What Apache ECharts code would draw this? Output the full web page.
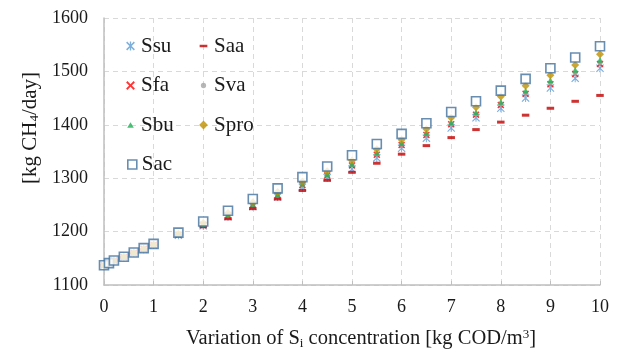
<!DOCTYPE html>
<html>
<head>
<meta charset="utf-8">
<script src="https://cdn.jsdelivr.net/npm/echarts@6/dist/echarts.min.js"></script>
<style>
  html, body { margin: 0; padding: 0; background: #fff; }
  #chart { width: 620px; height: 354px; }
</style>
</head>
<body>
<div id="chart"></div>
<script>
// Variation of Si concentration [kg COD/m3]
const xValues = [0, 0.1, 0.2, 0.4, 0.6, 0.8, 1, 1.5, 2, 2.5, 3, 3.5, 4, 4.5, 5, 5.5, 6, 6.5, 7, 7.5, 8, 8.5, 9, 9.5, 10];

// Methane production [kg CH4/day] for each varied component
const ssu  = [1137, 1141, 1146, 1152, 1160, 1167, 1175, 1193, 1211, 1228, 1247, 1265, 1283, 1301, 1317, 1338, 1356, 1375, 1394, 1413, 1431, 1450, 1469, 1487, 1506];
const saa  = [1137, 1141, 1146, 1152, 1160, 1167, 1175, 1193, 1209, 1224, 1243, 1261, 1277, 1296, 1311, 1328, 1345, 1361, 1376, 1391, 1405, 1418, 1431, 1444, 1455];
const sfa  = [1137, 1141, 1146, 1152, 1160, 1168, 1175, 1194, 1213, 1230, 1250, 1268, 1287, 1305, 1324, 1344, 1362, 1381, 1401, 1419, 1437, 1458, 1476, 1495, 1514];
const sva  = [1137, 1141, 1146, 1152, 1160, 1168, 1175, 1194, 1213, 1231, 1251, 1269, 1288, 1306, 1325, 1345, 1363, 1382, 1402, 1420, 1439, 1459, 1478, 1497, 1516];
const sbu  = [1137, 1141, 1146, 1153, 1160, 1168, 1176, 1195, 1214, 1232, 1252, 1270, 1290, 1308, 1327, 1348, 1366, 1385, 1405, 1424, 1443, 1464, 1484, 1503, 1522];
const spro = [1137, 1141, 1146, 1153, 1161, 1168, 1176, 1196, 1216, 1235, 1255, 1274, 1294, 1313, 1333, 1354, 1372, 1392, 1413, 1433, 1453, 1473, 1493, 1512, 1532];
const sac  = [1137, 1141, 1146, 1153, 1161, 1169, 1177, 1198, 1219, 1239, 1261, 1281, 1302, 1322, 1343, 1364, 1383, 1403, 1424, 1444, 1464, 1486, 1506, 1526, 1547];

const seriesNames = ['Ssu', 'Saa', 'Sfa', 'Sva', 'Sbu', 'Spro', 'Sac'];
const seriesValues = [ssu, saa, sfa, sva, sbu, spro, sac];

// Axis ranges and tick steps
const xMin = 0, xMax = 10, xStep = 1;
const yMin = 1100, yMax = 1600, yStep = 100;

const serif = '"Liberation Serif", "DejaVu Serif", serif';
const textColor = '#1a1a1a';

// Marker shapes (filled outlines)
const starPath = 'path://M0,1L1,0L5,4L9,0L10,1L6,5L10,9L9,10L5,6L1,10L0,9L4,5Z M4.4,0L5.6,0L5.6,10L4.4,10Z';
const crossPath = 'path://M0,1.5L1.5,0L5,3.5L8.5,0L10,1.5L6.5,5L10,8.5L8.5,10L5,6.5L1.5,10L0,8.5L3.5,5Z';
// Legend icons keep a 10x10 box so small marks stay small
const pad = 'M0,0L0.01,0L0.01,0.01L0,0.01Z M9.99,9.99L10,9.99L10,10L9.99,10Z ';
const legendIcons = {
  Ssu: 'path://' + pad + 'M1,2L2,1L5,4L8,1L9,2L6,5L9,8L8,9L5,6L2,9L1,8L4,5Z M4.4,1L5.6,1L5.6,9L4.4,9Z',
  Saa: 'path://' + pad + 'M1.5,3.8L8.5,3.8L8.5,6.2L1.5,6.2Z',
  Sfa: 'path://' + pad + 'M1,2.2L2.2,1L5,3.8L7.8,1L9,2.2L6.2,5L9,7.8L7.8,9L5,6.2L2.2,9L1,7.8L3.8,5Z',
  Sva: 'path://' + pad + 'M5,2.6A2.4,2.4 0 1,1 4.99,2.6Z',
  Sbu: 'path://' + pad + 'M5,2.5L8,7.5L2,7.5Z',
  Spro: 'path://' + pad + 'M5,1L9,5L5,9L1,5Z',
  Sac: 'rect'
};

const styles = {
  Ssu:  { symbol: starPath,  symbolSize: 8,        itemStyle: { color: '#5B9BD5' } },
  Saa:  { symbol: 'rect',    symbolSize: [7.5, 3], itemStyle: { color: '#C00000' } },
  Sfa:  { symbol: crossPath, symbolSize: 7,        itemStyle: { color: '#FF0000' } },
  Sva:  { symbol: 'circle',  symbolSize: 5,        itemStyle: { color: '#A5A5A5' } },
  Sbu:  { symbol: 'triangle',symbolSize: 6,        itemStyle: { color: '#1FAF55' } },
  Spro: { symbol: 'diamond', symbolSize: 8,        itemStyle: { color: '#BF9000' } },
  Sac:  { symbol: 'rect',    symbolSize: 9,        itemStyle: { color: '#FFFFFF', borderColor: '#41719C', borderWidth: 1.6 } }
};

const series = seriesNames.map((name, i) => Object.assign({
  name: name,
  type: 'scatter',
  data: xValues.map((x, j) => [x, seriesValues[i][j]]),
  emphasis: { disabled: true },
  animation: false
}, styles[name]));

const legendText = { fontFamily: serif, fontSize: 21, color: textColor, lineHeight: 22 };
function legendBlock(names, left, top, size) {
  return {
    data: names.map(n => ({ name: n, icon: legendIcons[n] })),
    orient: 'vertical',
    left: left,
    top: top,
    itemWidth: size,
    itemHeight: size,
    itemGap: 17.5,
    padding: 0,
    selectedMode: false,
    itemStyle: { borderWidth: 1.6 },
    textStyle: legendText
  };
}

const chart = echarts.init(document.getElementById('chart'), null, { renderer: 'canvas' });
chart.setOption({
  animation: false,
  backgroundColor: '#ffffff',
  grid: { left: 104, right: 20, top: 18, bottom: 69, containLabel: false, outerBoundsMode: 'none' },
  xAxis: {
    type: 'value', min: xMin, max: xMax, interval: xStep,
    axisLine: { show: true, onZero: false, lineStyle: { color: '#BFBFBF', width: 1.5 } },
    axisTick: { show: true, inside: true, length: 4, lineStyle: { color: '#BFBFBF' } },
    axisLabel: { margin: 13, fontFamily: serif, fontSize: 18, color: textColor },
    splitLine: { show: true, lineStyle: { color: '#D9D9D9', type: [5, 4], width: 1 } }
  },
  yAxis: {
    type: 'value', min: yMin, max: yMax, interval: yStep,
    axisLine: { show: true, onZero: false, lineStyle: { color: '#BFBFBF', width: 1.5 } },
    axisTick: { show: false },
    axisLabel: { margin: 16, fontFamily: serif, fontSize: 18, color: textColor, formatter: v => String(v) },
    splitLine: { show: true, lineStyle: { color: '#D9D9D9', type: [5, 4], width: 1 } }
  },
  legend: [
    Object.assign(legendBlock(['Ssu', 'Sfa', 'Sbu'], 125, 35, 11), { itemStyle: {} }),
    Object.assign(legendBlock(['Saa', 'Sva', 'Spro'], 198, 35, 11), { itemStyle: {} }),
    legendBlock(['Sac'], 127, 153.5, 9)
  ],
  graphic: [
    {
      type: 'text', x: 30, y: 128, rotation: Math.PI / 2,
      style: {
        text: '[kg CH{sub|4}/day]',
        fontFamily: serif, fontSize: 21, fill: textColor, lineHeight: 22,
        align: 'center', verticalAlign: 'middle',
        rich: { sub: { fontFamily: serif, fontSize: 13, lineHeight: 13, verticalAlign: 'bottom', fill: textColor } }
      }
    },
    {
      type: 'text', x: 361, y: 339,
      style: {
        text: 'Variation of S{sub|i} concentration [kg COD/m{sup|3}]',
        fontFamily: serif, fontSize: 20.5, fill: textColor, lineHeight: 22,
        align: 'center', verticalAlign: 'middle',
        rich: {
          sub: { fontFamily: serif, fontSize: 13, lineHeight: 13, verticalAlign: 'bottom', fill: textColor },
          sup: { fontFamily: serif, fontSize: 13, lineHeight: 13, verticalAlign: 'top', fill: textColor }
        }
      }
    }
  ],
  series: series
});
</script>
</body>
</html>
